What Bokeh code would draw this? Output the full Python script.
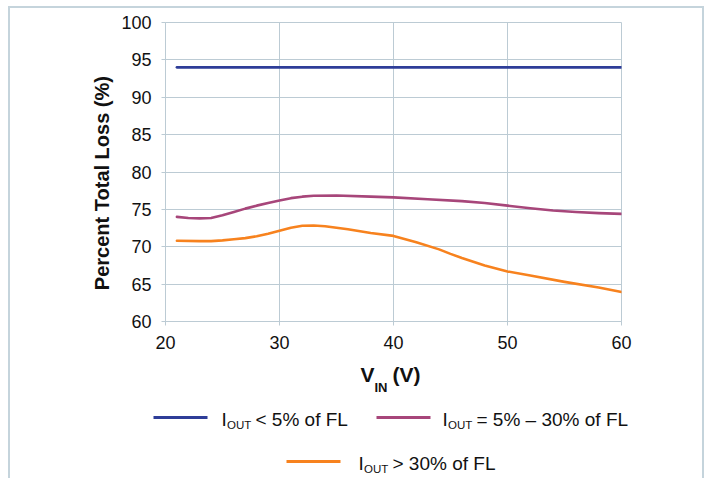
from bokeh.plotting import figure
from bokeh.models import FixedTicker, Range1d
from bokeh.core.properties import value
from bokeh.embed import file_html
from bokeh.resources import INLINE

# ---- data ----
x_ticks = [20, 30, 40, 50, 60]
y_ticks = [60, 65, 70, 75, 80, 85, 90, 95, 100]

vin_low = [21, 30, 40, 50, 60]
loss_low = [94.0, 94.0, 94.0, 94.0, 94.0]

vin_mid = [21, 22, 23, 24, 25, 26, 27, 28, 29, 30, 31, 32, 33, 35, 38, 40, 43, 46, 48, 50, 52, 54, 56, 58, 60]
loss_mid = [74.0, 73.85, 73.8, 73.85, 74.2, 74.65, 75.1, 75.5, 75.85, 76.2, 76.5, 76.7, 76.82, 76.85, 76.7,
            76.6, 76.35, 76.1, 75.85, 75.5, 75.15, 74.85, 74.65, 74.5, 74.4]

vin_high = [21, 23, 24, 25, 26, 27, 28, 29, 30, 31, 32, 33, 34, 35, 36, 38, 40, 42, 44, 45, 46, 47, 48, 50, 52, 55, 58, 60]
loss_high = [70.8, 70.75, 70.75, 70.85, 71.0, 71.15, 71.4, 71.75, 72.15, 72.55, 72.8, 72.85, 72.75, 72.55, 72.35,
             71.85, 71.45, 70.6, 69.65, 69.05, 68.5, 68.0, 67.5, 66.7, 66.15, 65.3, 64.55, 63.95]

series_colors = ["#2e3d98", "#a7467a", "#f7821e"]
legend_main = ["< 5% of FL", "= 5% \u2013 30% of FL", "> 30% of FL"]
y_title = "Percent Total Loss (%)"

GRID = "#bccbd4"
BORDER = "2px solid #c5d4dc"
FONT = "Liberation Sans"
TXT = "#111111"

W = 696
H1 = 355
H2 = 117
PX0, PY0 = 10, 8            # page position of the canvas origin
FRAME_L, FRAME_T, FRAME_R, FRAME_B = 165, 22, 621, 321   # page px

p = figure(width=W, height=H1, x_range=Range1d(20, 60), y_range=Range1d(60, 100),
           output_backend="svg", toolbar_location=None,
           min_border_left=FRAME_L - PX0, min_border_right=W - (FRAME_R - PX0),
           min_border_top=FRAME_T - PY0, min_border_bottom=H1 - (FRAME_B - PY0))
p.outline_line_color = GRID
p.border_fill_color = "white"
p.styles = {"margin-left": "8px", "margin-top": "6px", "border-top": BORDER,
            "border-left": BORDER, "border-right": BORDER}

for ax in (p.xaxis[0], p.yaxis[0]):
    ax.axis_line_color = GRID
    ax.major_tick_line_color = GRID
    ax.major_tick_in = 0
    ax.major_tick_out = 4
    ax.minor_tick_line_color = None
    ax.major_label_text_font = FONT
    ax.major_label_text_font_size = "18px"
    ax.major_label_text_color = TXT
    ax.major_label_standoff = 10
p.xaxis.ticker = FixedTicker(ticks=x_ticks)
p.yaxis.ticker = FixedTicker(ticks=y_ticks)
p.xgrid.ticker = FixedTicker(ticks=x_ticks)
p.ygrid.ticker = FixedTicker(ticks=y_ticks)
p.xgrid.grid_line_color = GRID
p.ygrid.grid_line_color = GRID

# trailing no-break spaces shift the centred title slightly downward, as in the reference
p.yaxis.axis_label = y_title + "\u00a0" * 4
p.yaxis.axis_label_text_font = FONT
p.yaxis.axis_label_text_font_size = "20px"
p.yaxis.axis_label_text_font_style = "bold"
p.yaxis.axis_label_text_color = TXT
p.yaxis.axis_label_standoff = 5

for xs, ys, c in ((vin_low, loss_low, series_colors[0]), (vin_mid, loss_mid, series_colors[1]),
                  (vin_high, loss_high, series_colors[2])):
    p.line(xs, ys, line_color=c, line_width=2.6, line_join="round", line_cap="round")

# ---- lower panel: x-axis title and legend (pixel coordinates) ----
p2 = figure(width=W, height=H2, x_range=Range1d(0, W), y_range=Range1d(H2, 0),
            output_backend="svg", toolbar_location=None,
            min_border_left=0, min_border_right=0, min_border_top=0, min_border_bottom=0,
            x_axis_type=None, y_axis_type=None)
p2.grid.visible = False
p2.outline_line_color = None
p2.border_fill_color = "white"
p2.styles = {"margin-left": "8px", "border-left": BORDER, "border-right": BORDER}

Y2 = PY0 + H1  # page y of p2 top


def txt(px, py, text, size="19px", bold=False):
    p2.text(x=[px - PX0], y=[py - Y2], text=[text], text_font=value(FONT), text_font_size=size,
            text_font_style="bold" if bold else "normal", text_color=TXT,
            text_baseline="alphabetic", text_align="left")


# x axis title: V_IN (V)
txt(360, 376, "V", size="21px", bold=True)
txt(374, 389, "IN", size="13px", bold=True)
txt(392, 376, "(V)", size="21px", bold=True)

# legend: line x0, x1, line y, text x
legend_pos = [(153, 207, 419, 221), (376, 430, 419, 442), (286, 340, 463, 358)]
for (x0, x1, ly, tx), c, t in zip(legend_pos, series_colors, legend_main):
    p2.line([x0 - PX0, x1 - PX0], [ly - Y2, ly - Y2], line_color=c, line_width=3)
    txt(tx, ly + 2, "I")
    txt(tx + 5.5, ly + 7, "OUT", size="11.5px")
    txt(tx + 34, ly + 2, t)

open("out.html", "w").write(file_html([p, p2], INLINE))
